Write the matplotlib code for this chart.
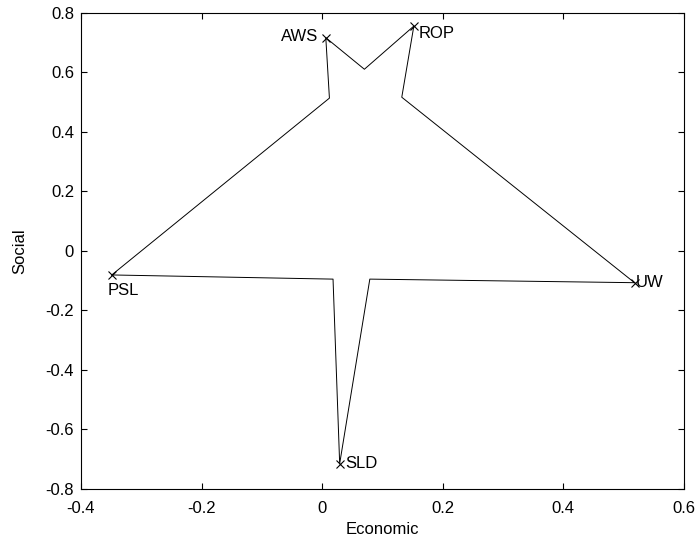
import matplotlib
matplotlib.use('Agg')
import matplotlib.pyplot as plt

plt.rcParams['font.family'] = ['Liberation Sans', 'DejaVu Sans']

# outer (labelled) points, in polygon order
names = ['PSL', 'AWS', 'ROP', 'UW', 'SLD']
econ = [-0.349, 0.006, 0.152, 0.518, 0.029]
social = [-0.081, 0.716, 0.755, -0.107, -0.715]

# inner vertices, each one following the outer point of the same index
inner_econ = [0.012, 0.070, 0.132, 0.079, 0.018]
inner_social = [0.513, 0.610, 0.516, -0.095, -0.095]

# label offsets in pixels and alignment
offsets = {'PSL': (-4, -8, 'left', 'top'),
           'AWS': (-8, 1, 'right', 'center'),
           'ROP': (5, -7, 'left', 'center'),
           'UW': (1, 0, 'left', 'center'),
           'SLD': (6, 0, 'left', 'center')}

# build the closed star outline
px, py = [], []
for i in range(len(names)):
    px += [econ[i], inner_econ[i]]
    py += [social[i], inner_social[i]]
px.append(econ[0])
py.append(social[0])

fig = plt.figure(figsize=(7, 5.42), dpi=100)
ax = fig.add_axes([0.1157, 0.0978, 0.8614, 0.8788])
ax.plot(px, py, 'k-', lw=0.7)
ax.plot(econ, social, 'kx', ms=6, mew=0.8)
for n, x, y in zip(names, econ, social):
    dx, dy, ha, va = offsets[n]
    ax.annotate(n, (x, y), xytext=(dx, dy), textcoords='offset pixels',
                ha=ha, va=va, fontsize=12)

ax.set_xlim(-0.4, 0.6)
ax.set_ylim(-0.8, 0.8)
ax.set_xticks([-0.4, -0.2, 0, 0.2, 0.4, 0.6])
ax.set_xticklabels(['-0.4', '-0.2', '0', '0.2', '0.4', '0.6'])
ax.set_yticks([-0.8, -0.6, -0.4, -0.2, 0, 0.2, 0.4, 0.6, 0.8])
ax.set_yticklabels(['-0.8', '-0.6', '-0.4', '-0.2', '0', '0.2', '0.4', '0.6', '0.8'])
ax.tick_params(direction='in', top=True, right=True, labelsize=12, length=4)
ax.tick_params(axis='x', pad=9)
ax.tick_params(axis='y', pad=5)
for s in ax.spines.values():
    s.set_linewidth(0.8)
ax.set_xlabel('Economic', fontsize=12, labelpad=4)
ax.set_ylabel('Social', fontsize=12, labelpad=13)

fig.savefig('out.png', dpi=100)
